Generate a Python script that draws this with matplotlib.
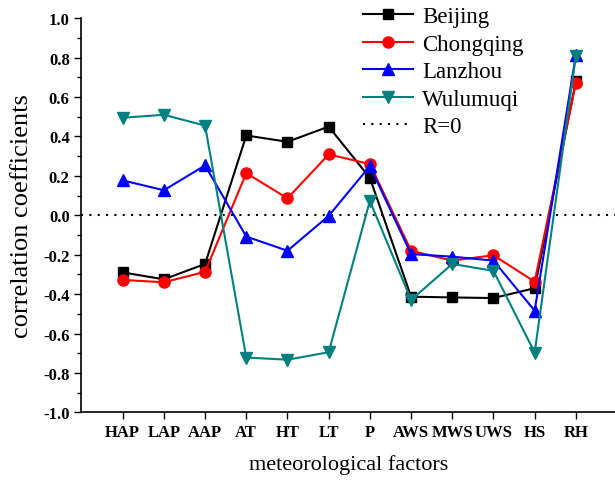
import matplotlib
matplotlib.use("Agg")
import matplotlib.pyplot as plt
import numpy as np

factors = ["HAP", "LAP", "AAP", "AT", "HT", "LT", "P", "AWS", "MWS", "UWS", "HS", "RH"]
beijing = [-0.29, -0.325, -0.247, 0.405, 0.373, 0.45, 0.19, -0.413, -0.417, -0.42, -0.37, 0.68]
chongqing = [-0.328, -0.34, -0.287, 0.214, 0.086, 0.309, 0.26, -0.18, -0.23, -0.203, -0.337, 0.67]
lanzhou = [0.177, 0.127, 0.253, -0.108, -0.18, -0.003, 0.25, -0.197, -0.21, -0.23, -0.484, 0.813]
wulumuqi = [0.495, 0.51, 0.455, -0.722, -0.733, -0.695, 0.073, -0.43, -0.247, -0.282, -0.697, 0.81]
yticks = [-1.0, -0.8, -0.6, -0.4, -0.2, 0.0, 0.2, 0.4, 0.6, 0.8, 1.0]

plt.rcParams['font.family'] = ['Liberation Serif', 'DejaVu Serif']

fig = plt.figure(figsize=(6.15, 4.81), dpi=100)
ax = fig.add_axes([0.1325, 0.1407, 0.8675, 0.8193])

x = np.arange(1, len(factors) + 1)
ms = 7
lw = 1.5
ax.plot(x, beijing, color='black', marker='s', ms=ms, lw=lw, label='Beijing', zorder=3)
ax.plot(x, chongqing, color='#FF0000', marker='o', ms=ms + 1, lw=lw, label='Chongqing', zorder=4)
ax.plot(x, lanzhou, color='#0000FF', marker='^', ms=ms + 2, lw=lw, label='Lanzhou', zorder=5)
ax.plot(x, wulumuqi, color='#008080', marker='v', ms=ms + 2, lw=lw, label='Wulumuqi', zorder=6)
ax.axhline(0, color='black', lw=1.5, linestyle=(0, (1, 3)), label='R=0', zorder=2)

ax.set_xlim(0, 12.95)
ax.set_ylim(-1.0, 1.0)
ax.set_xticks(x)
ax.set_xticklabels(factors, fontweight='bold', fontsize=12)
ax.set_yticks(yticks)
ax.set_yticklabels([f"{v:.1f}" for v in yticks], fontweight='bold', fontsize=12)
ax.set_yticks(np.arange(-0.9, 1.0, 0.2), minor=True)
ax.tick_params(axis='both', which='major', direction='out', length=5, width=1)
ax.tick_params(axis='y', which='minor', direction='out', length=3, width=1)

for s in ['top', 'right']:
    ax.spines[s].set_visible(False)
for s in ['left', 'bottom']:
    ax.spines[s].set_linewidth(1.2)

ax.set_xlabel('meteorological factors', fontsize=16, labelpad=10)
ax.set_ylabel('correlation coefficients', fontsize=19, labelpad=7)

leg = ax.legend(loc='upper left', bbox_to_anchor=(0.575, 1.004), bbox_transform=fig.transFigure,
                frameon=False, fontsize=16.5, handlelength=2.2, labelspacing=0.28,
                handletextpad=0.4, borderaxespad=0)
leg.set_zorder(10)

fig.savefig('out.png', dpi=100)
